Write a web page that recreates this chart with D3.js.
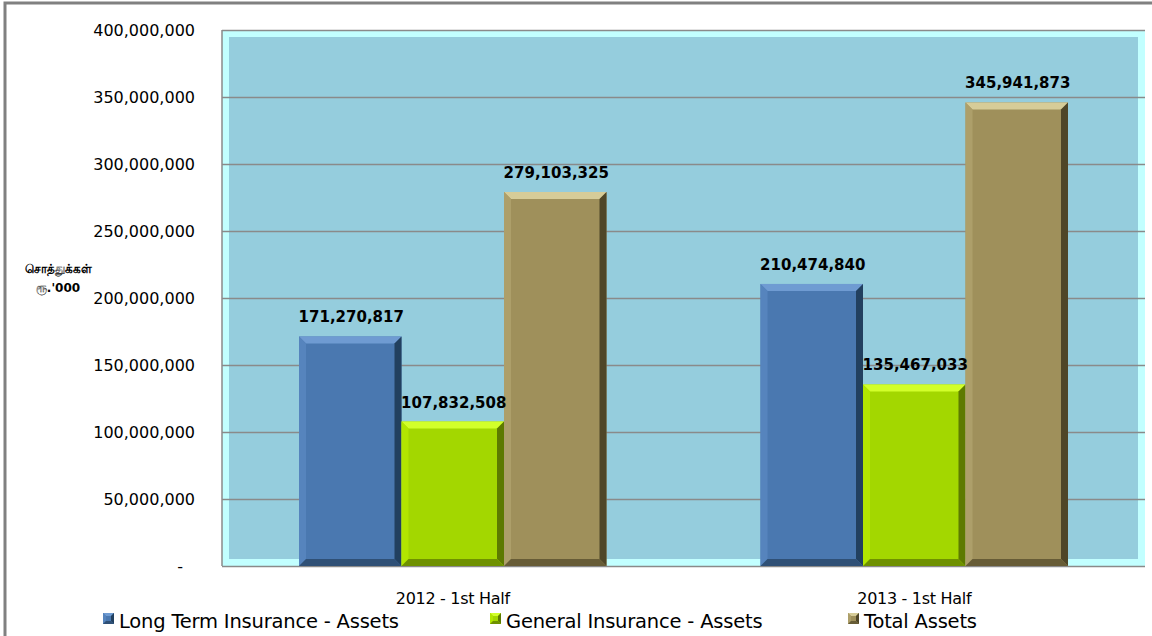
<!DOCTYPE html>
<html>
<head>
<meta charset="utf-8">
<script src="https://cdn.jsdelivr.net/npm/d3@7"></script>
<style>
  body { margin: 0; background: #fff; }
  svg text { font-family: "DejaVu Sans", sans-serif; }
</style>
</head>
<body>
<div id="chart"></div>
<script>
// data
const categories = ['2012 -  1st Half', '2013 - 1st Half'];
const seriesNames = ['Long Term Insurance - Assets', 'General Insurance - Assets', 'Total Assets'];
const longTerm = [171270817, 210474840];
const general = [107832508, 135467033];
const total = [279103325, 345941873];
const yTicks = [0, 50000000, 100000000, 150000000, 200000000, 250000000, 300000000, 350000000, 400000000];

const seriesValues = [longTerm, general, total];
const palette = [
    {face: '#4a78b0', top: '#6f9bd2', left: '#5684bd', right: '#22405f', bottom: '#2f5076'},
    {face: '#a3d700', top: '#d2ff2a', left: '#b2e600', right: '#5d7a00', bottom: '#6f9100'},
    {face: '#9f905b', top: '#d6cc98', left: '#ad9f6a', right: '#4f4628', bottom: '#675c36'}
];

const width = 1152, height = 636;
const plot = {left: 222, right: 1145, top: 30, bottom: 566};
const depth = 7;

const svg = d3.select('#chart').append('svg')
    .attr('width', width).attr('height', height);

// outer frame
svg.append('path')
    .attr('d', `M5,${height} L5,3 L${width},3`)
    .attr('fill', 'none').attr('stroke', '#808080').attr('stroke-width', 3);

const scaleY = d3.scaleLinear([0, 400000000], [plot.bottom, plot.top]);
const scaleX = d3.scaleBand(categories, [plot.left, plot.right]);
const scaleInner = d3.scaleBand(d3.range(seriesNames.length), [0, 307.5]);

// walls
svg.append('rect')
    .attr('x', plot.left).attr('y', plot.top)
    .attr('width', plot.right - plot.left).attr('height', plot.bottom - plot.top)
    .attr('fill', '#c2ffff');
svg.append('rect')
    .attr('x', plot.left + depth).attr('y', plot.top + depth)
    .attr('width', plot.right - plot.left - 2 * depth).attr('height', plot.bottom - plot.top - 2 * depth)
    .attr('fill', '#95cddd');

// grid
svg.append('g').selectAll('line').data(yTicks).join('line')
    .attr('x1', plot.left).attr('x2', plot.right)
    .attr('y1', d => scaleY(d) + 0.5).attr('y2', d => scaleY(d) + 0.5)
    .attr('stroke', '#8a8a8a').attr('stroke-width', 1.5);
svg.append('line')
    .attr('x1', plot.left).attr('x2', plot.left)
    .attr('y1', plot.top).attr('y2', plot.bottom)
    .attr('stroke', '#8a8a8a').attr('stroke-width', 1.5);

// y axis labels
const fmt = d3.format(',');
svg.append('g').selectAll('text').data(yTicks).join('text')
    .attr('x', d => d === 0 ? 183 : 195)
    .attr('y', d => scaleY(d))
    .attr('dy', '0.35em')
    .attr('text-anchor', 'end')
    .attr('font-size', 16)
    .attr('fill', '#000')
    .text(d => d === 0 ? '-' : fmt(d));

// y axis title
const yTitle = svg.append('text')
    .attr('text-anchor', 'middle')
    .attr('font-size', 12).attr('font-weight', 'bold');
yTitle.append('tspan').attr('x', 58).attr('y', 273).text('சொத்துக்கள்');
yTitle.append('tspan').attr('x', 58).attr('y', 292).text('ரூ.\'000');

// bars
const bars = [];
categories.forEach((c, i) => {
    seriesValues.forEach((vals, s) => {
        bars.push({cat: c, s: s, value: vals[i]});
    });
});

function bevel(g, x0, x1, y0, y1, col, b) {
    g.append('rect').attr('x', x0).attr('y', y0)
        .attr('width', x1 - x0).attr('height', y1 - y0).attr('fill', col.face);
    g.append('polygon').attr('fill', col.top)
        .attr('points', [[x0, y0], [x1, y0], [x1 - b, y0 + b], [x0 + b, y0 + b]].join(' '));
    g.append('polygon').attr('fill', col.left)
        .attr('points', [[x0, y0], [x0 + b, y0 + b], [x0 + b, y1 - b], [x0, y1]].join(' '));
    g.append('polygon').attr('fill', col.right)
        .attr('points', [[x1, y0], [x1, y1], [x1 - b, y1 - b], [x1 - b, y0 + b]].join(' '));
    g.append('polygon').attr('fill', col.bottom)
        .attr('points', [[x0, y1], [x0 + b, y1 - b], [x1 - b, y1 - b], [x1, y1]].join(' '));
}

const barLayer = svg.append('g');
bars.forEach(d => {
    const x0 = scaleX(d.cat) + (scaleX.bandwidth() - 307.5) / 2 + scaleInner(d.s);
    const x1 = x0 + scaleInner.bandwidth();
    const g = barLayer.append('g');
    bevel(g, x0, x1, scaleY(d.value), scaleY(0), palette[d.s], 7);
    svg.append('text')
        .attr('x', (x0 + x1) / 2 + 1)
        .attr('y', scaleY(d.value) - 14)
        .attr('text-anchor', 'middle')
        .attr('font-family', '"DejaVu Sans Mono", monospace')
        .attr('font-size', 15).attr('font-weight', 'bold')
        .text(fmt(d.value));
});

// category labels
svg.append('g').selectAll('text').data(categories).join('text')
    .attr('x', d => scaleX(d) + scaleX.bandwidth() / 2)
    .attr('y', 604)
    .attr('text-anchor', 'middle')
    .attr('font-size', 16)
    .attr('letter-spacing', -0.3)
    .text(d => d);

// legend
const legendX = [103, 490, 848];
const legend = svg.append('g');
seriesNames.forEach((name, i) => {
    const g = legend.append('g');
    bevel(g, legendX[i], legendX[i] + 11, 613, 624, palette[i], 3);
    g.append('text')
        .attr('x', legendX[i] + 16).attr('y', 628)
        .attr('font-size', 19.5)
        .attr('letter-spacing', -0.2)
        .text(name);
});
</script>
</body>
</html>
